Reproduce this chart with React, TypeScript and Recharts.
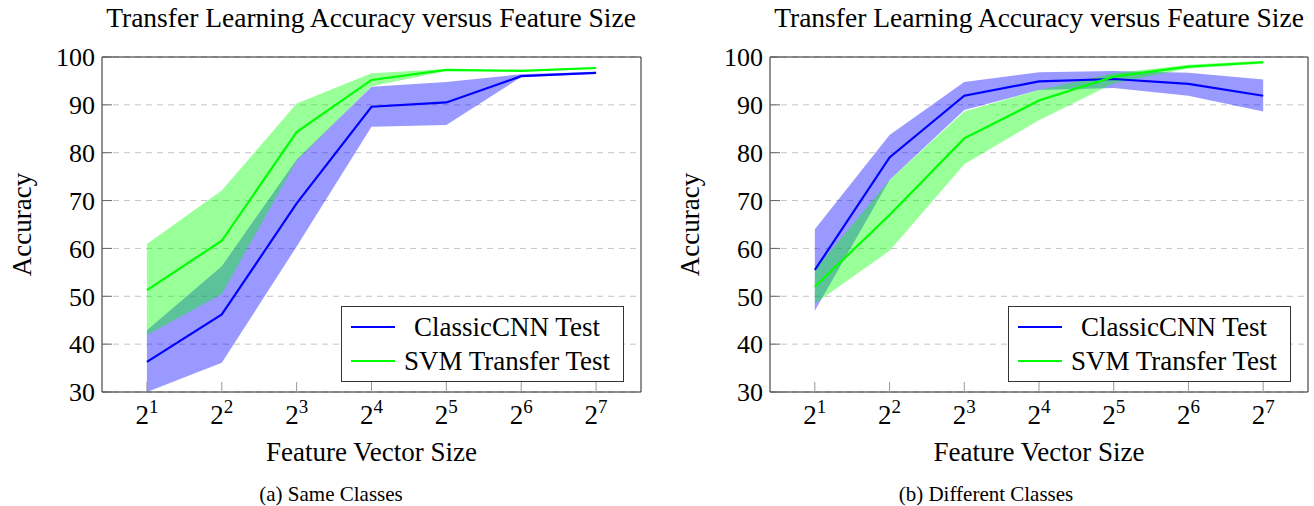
import React from 'react';
import {
  ComposedChart,
  Area,
  Line,
  XAxis,
  YAxis,
  CartesianGrid,
  Legend,
  Label,
} from 'recharts';

// x positions are the exponents of 2 (feature vector size 2^k)
const exponents = [1, 2, 3, 4, 5, 6, 7];
const yTicks = [30, 40, 50, 60, 70, 80, 90, 100];

// (a) Same Classes
const cnnSame = [36.3, 46.2, 69.4, 89.6, 90.5, 96.0, 96.7];
const cnnSameLo = [30.0, 36.1, 60.4, 85.4, 85.8, 95.8, 96.5];
const cnnSameHi = [42.9, 56.3, 78.6, 93.8, 94.8, 96.4, 96.9];
const svmSame = [51.3, 61.6, 84.3, 95.2, 97.3, 97.1, 97.7];
const svmSameLo = [41.9, 50.5, 78.3, 93.9, 97.1, 96.9, 97.5];
const svmSameHi = [60.9, 72.1, 90.3, 96.6, 97.5, 97.3, 97.9];

// (b) Different Classes
const cnnDiff = [55.5, 79.0, 91.9, 94.9, 95.4, 94.4, 91.9];
const cnnDiffLo = [47.0, 74.3, 88.9, 93.1, 93.5, 91.9, 88.6];
const cnnDiffHi = [64.0, 83.7, 94.8, 96.8, 97.1, 96.7, 95.3];
const svmDiff = [52.0, 67.0, 83.0, 90.9, 95.9, 98.0, 98.9];
const svmDiffLo = [48.5, 59.5, 77.6, 86.8, 94.5, 97.6, 98.6];
const svmDiffHi = [55.5, 74.3, 88.6, 93.1, 96.6, 98.4, 99.2];

const FONT = '"Liberation Serif", "DejaVu Serif", serif';
const W = 657;
const H = 470;
const TOP = 57;
const BOTTOM = 392;
const BLUE = '#0000ff';
const GREEN = '#00ff00';

const buildRows = (
  cnn: number[], cnnLo: number[], cnnHi: number[],
  svm: number[], svmLo: number[], svmHi: number[],
) =>
  exponents.map((k, i) => ({
    k,
    cnn: cnn[i],
    cnnBand: [cnnLo[i], cnnHi[i]],
    svm: svm[i],
    svmBand: [svmLo[i], svmHi[i]],
  }));

const PowerTick = (props: any) => {
  const { x, payload } = props;
  return (
    <text x={x} y={BOTTOM + 32} textAnchor="middle" fontFamily={FONT} fill="#000">
      <tspan fontSize={27}>2</tspan>
      <tspan fontSize={19} dy={-11}>{payload.value}</tspan>
    </text>
  );
};

const LegendBox = () => (
  <div
    style={{
      border: '1px solid #333',
      background: '#fff',
      width: 283,
      height: 76,
      boxSizing: 'border-box',
      fontFamily: FONT,
      fontSize: 27,
      color: '#000',
      paddingTop: 3,
    }}
  >
    {[
      { name: 'ClassicCNN Test', color: BLUE },
      { name: 'SVM Transfer Test', color: GREEN },
    ].map((it) => (
      <div key={it.name} style={{ display: 'flex', alignItems: 'center', height: 34 }}>
        <span style={{ display: 'inline-block', width: 44, height: 2.5, background: it.color, marginLeft: 9 }} />
        <span style={{ flex: 1, textAlign: 'center', whiteSpace: 'nowrap', marginRight: 4, fontFamily: FONT }}>{it.name}</span>
      </div>
    ))}
  </div>
);

interface PanelProps {
  rows: any[];
  marginLeft: number;
  marginRight: number;
}

// axes are 1px thick, so the margins are trimmed by that pixel
const Panel: React.FC<PanelProps> = ({ rows, marginLeft, marginRight }) => {
  const plotW = W - marginLeft - marginRight;
  return (
    <ComposedChart
      width={W}
      height={H}
      data={rows}
      margin={{ top: TOP - 1, right: marginRight - 1, bottom: H - BOTTOM - 1, left: marginLeft - 1 }}
    >
      <CartesianGrid
        xAxisId="b"
        yAxisId="l"
        vertical={false}
        stroke="#c4c4c4"
        strokeDasharray="6 5"
      />
      <Area
        xAxisId="b"
        yAxisId="l"
        type="linear"
        dataKey="cnnBand"
        fill={BLUE}
        fillOpacity={0.4}
        stroke="none"
        isAnimationActive={false}
        legendType="none"
      />
      <Area
        xAxisId="b"
        yAxisId="l"
        type="linear"
        dataKey="svmBand"
        fill={GREEN}
        fillOpacity={0.4}
        stroke="none"
        isAnimationActive={false}
        legendType="none"
      />
      <Line
        xAxisId="b"
        yAxisId="l"
        type="linear"
        dataKey="cnn"
        name="ClassicCNN Test"
        stroke={BLUE}
        strokeWidth={2.2}
        dot={false}
        isAnimationActive={false}
      />
      <Line
        xAxisId="b"
        yAxisId="l"
        type="linear"
        dataKey="svm"
        name="SVM Transfer Test"
        stroke={GREEN}
        strokeWidth={2.2}
        dot={false}
        isAnimationActive={false}
      />
      <XAxis
        xAxisId="b"
        dataKey="k"
        type="number"
        domain={[0.4, 7.6]}
        ticks={exponents}
        interval={0}
        height={1}
        tick={<PowerTick />}
        tickSize={-10}
        tickLine={{ stroke: '#999' }}
        axisLine={{ stroke: '#222' }}
      >
        <Label
          content={() => (
            <text
              x={marginLeft + plotW / 2}
              y={BOTTOM + 69}
              textAnchor="middle"
              fontFamily={FONT}
              fontSize={27}
              fill="#000"
            >
              Feature Vector Size
            </text>
          )}
        />
      </XAxis>
      <XAxis
        xAxisId="t"
        orientation="top"
        dataKey="k"
        type="number"
        domain={[0.4, 7.6]}
        ticks={exponents}
        interval={0}
        height={1}
        tick={false}
        tickSize={-10}
        tickLine={{ stroke: '#999' }}
        axisLine={{ stroke: '#222' }}
      />
      <YAxis
        yAxisId="l"
        domain={[30, 100]}
        ticks={yTicks}
        interval={0}
        allowDataOverflow
        width={1}
        tickSize={-10}
        tickMargin={17}
        tickLine={{ stroke: '#666' }}
        axisLine={{ stroke: '#222' }}
        tick={{ fill: '#000', fontSize: 26, fontFamily: FONT }}
      >
        <Label
          content={() => (
            <text
              x={marginLeft - 80}
              y={(TOP + BOTTOM) / 2}
              textAnchor="middle"
              dominantBaseline="central"
              fontFamily={FONT}
              fontSize={27}
              fill="#000"
              transform={`rotate(-90 ${marginLeft - 80} ${(TOP + BOTTOM) / 2})`}
            >
              Accuracy
            </text>
          )}
        />
      </YAxis>
      <YAxis
        yAxisId="r"
        orientation="right"
        domain={[30, 100]}
        ticks={yTicks}
        interval={0}
        width={1}
        tick={false}
        tickSize={-10}
        tickLine={{ stroke: '#666' }}
        axisLine={{ stroke: '#222' }}
      />
      <Legend
        layout="vertical"
        align="center"
        verticalAlign="middle"
        content={<LegendBox />}
        wrapperStyle={{ left: W - marginRight - 17 - 283, top: BOTTOM - 10 - 76, width: 283, height: 76 }}
      />
    </ComposedChart>
  );
};

const titleStyle = (center: number): React.CSSProperties => ({
  position: 'absolute',
  top: 2,
  left: center - 320,
  width: 640,
  textAlign: 'center',
  fontFamily: FONT,
  fontSize: 27.5,
  lineHeight: '32px',
  color: '#000',
  whiteSpace: 'nowrap',
});

const captionStyle = (center: number): React.CSSProperties => ({
  position: 'absolute',
  top: 481,
  left: center - 200,
  width: 400,
  textAlign: 'center',
  fontFamily: FONT,
  fontSize: 21,
  lineHeight: '26px',
  color: '#000',
});

export default function App() {
  const sameRows = buildRows(cnnSame, cnnSameLo, cnnSameHi, svmSame, svmSameLo, svmSameHi);
  const diffRows = buildRows(cnnDiff, cnnDiffLo, cnnDiffHi, svmDiff, svmDiffLo, svmDiffHi);
  return (
    <div style={{ position: 'absolute', left: 0, top: 0, width: 1314, height: 506, background: '#fff' }}>
      <div style={{ position: 'absolute', left: 0, top: 0 }}>
        <Panel rows={sameRows} marginLeft={102} marginRight={16} />
      </div>
      <div style={{ position: 'absolute', left: 657, top: 0 }}>
        <Panel rows={diffRows} marginLeft={113} marginRight={6} />
      </div>
      <div style={titleStyle(371)}>Transfer Learning Accuracy versus Feature Size</div>
      <div style={titleStyle(1039)}>Transfer Learning Accuracy versus Feature Size</div>
      <div style={captionStyle(331)}>(a) Same Classes</div>
      <div style={captionStyle(986)}>(b) Different Classes</div>
    </div>
  );
}
